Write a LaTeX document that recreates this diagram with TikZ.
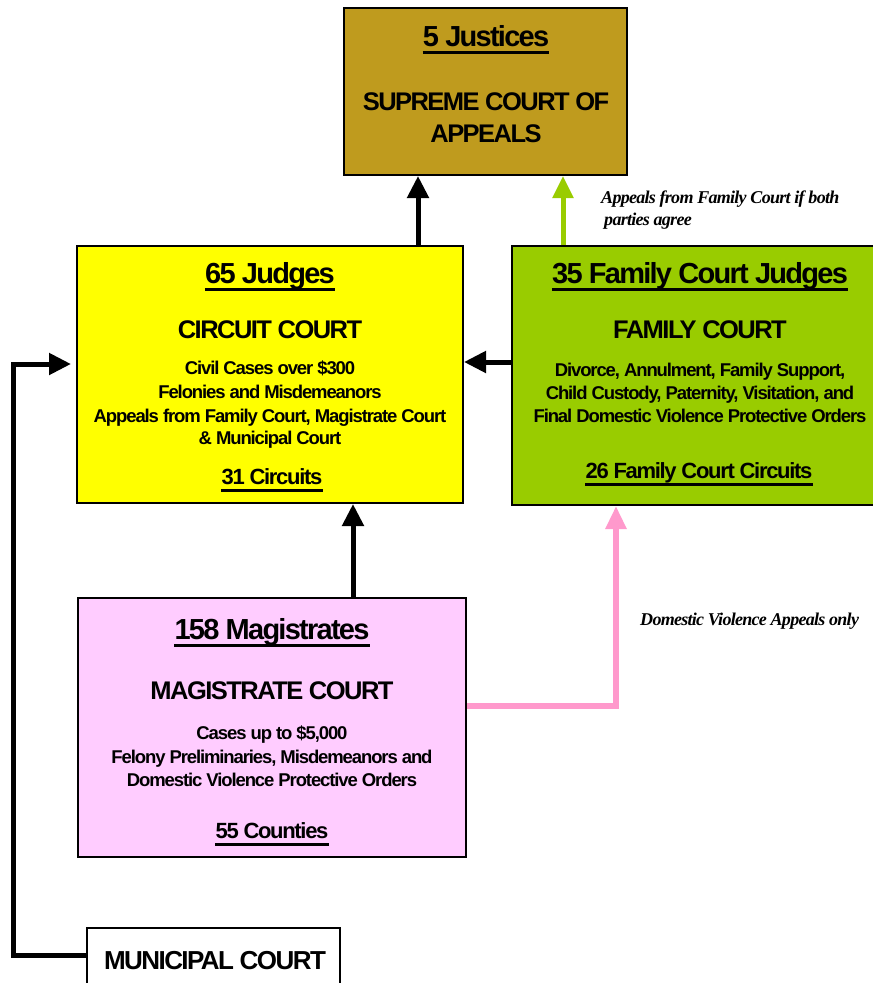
\documentclass[tikz,border=0pt]{standalone}
\usepackage{fontspec}
\setmainfont{Liberation Sans}[LetterSpace=-6]
\newfontfamily\tmfont{Liberation Serif}[LetterSpace=-4]
\usetikzlibrary{arrows.meta}
\definecolor{supc}{HTML}{BF9B1E}
\definecolor{circ}{HTML}{FFFF00}
\definecolor{famc}{HTML}{99CC00}
\definecolor{magc}{HTML}{FFCCFF}
\definecolor{pinka}{HTML}{FF99CC}
\definecolor{greena}{HTML}{99CC00}
\begin{document}
\begin{tikzpicture}[x=1pt,y=-1pt,
  box/.style={draw=black, line width=2pt, inner sep=0pt, anchor=center},
  txt/.style={inner sep=0pt, anchor=base, font=\bfseries},
  head/.style={txt, font=\fontsize{29}{30}\selectfont\bfseries},
  court/.style={txt, font=\fontsize{25.5}{27}\selectfont\bfseries},
  body/.style={txt, font=\fontsize{18.5}{19}\selectfont\bfseries},
  foot/.style={txt, font=\fontsize{22}{23}\selectfont\bfseries},
  note/.style={inner sep=0pt, anchor=base west, font=\tmfont\fontsize{18}{19}\selectfont\bfseries\itshape},
  ul/.style={line width=3pt},
  blk/.style={line width=5pt, draw=black, line join=miter, -{Triangle[width=21pt,length=22pt]}},
  grn/.style={line width=5pt, draw=greena, -{Triangle[width=20pt,length=22pt]}},
  pnk/.style={line width=5.5pt, draw=pinka, line join=miter, -{Triangle[width=20pt,length=23pt]}}
]
\useasboundingbox (0,0) rectangle (873,983);
% boxes
\node[box, fill=supc, minimum width=283pt, minimum height=167pt] (sup) at (485.5,91.5) {};
\node[box, fill=circ, minimum width=386pt, minimum height=257pt] (cir) at (270,374.5) {};
\node[box, fill=famc, minimum width=378pt, minimum height=259pt] (fam) at (701,375.5) {};
\node[box, fill=magc, minimum width=388pt, minimum height=259pt] (mag) at (272,727.5) {};
\node[box, fill=white, line width=1.5pt, minimum width=253pt, minimum height=62pt] (mun) at (213.5,959) {};

% supreme text
\node[head] (s1) at (486,46) {5 Justices};
\draw[ul] ([yshift=-6pt]s1.base west) -- ([yshift=-6pt]s1.base east);
\node[court] (s2) at (486,110) {SUPREME COURT OF};
\node[court] (s3) at (486,142) {APPEALS};

% circuit text
\node[head] (c1) at (270,283) {65 Judges};
\draw[ul] ([yshift=-6pt]c1.base west) -- ([yshift=-6pt]c1.base east);
\node[court] (c2) at (270,338) {CIRCUIT COURT};
\node[body] (c3) at (270,374) {Civil Cases over \$300};
\node[body] (c4) at (270,398) {Felonies and Misdemeanors};
\node[body] (c5) at (270,422) {Appeals from Family Court, Magistrate Court};
\node[body] (c6) at (270,444) {\& Municipal Court};
\node[foot] (c7) at (272,484) {31 Circuits};
\draw[ul] ([yshift=-6pt]c7.base west) -- ([yshift=-6pt]c7.base east);

% family text
\node[head] (f1) at (700,283) {35 Family Court Judges};
\draw[ul] ([yshift=-6pt]f1.base west) -- ([yshift=-6pt]f1.base east);
\node[court] (f2) at (700,338) {FAMILY COURT};
\node[body] (f3) at (700,376) {Divorce, Annulment, Family Support,};
\node[body] (f4) at (700,399) {Child Custody, Paternity, Visitation, and};
\node[body] (f5) at (700,422) {Final Domestic Violence Protective Orders};
\node[foot] (f6) at (699,478) {26 Family Court Circuits};
\draw[ul] ([yshift=-6pt]f6.base west) -- ([yshift=-6pt]f6.base east);

% magistrate text
\node[head] (m1) at (272,639) {158 Magistrates};
\draw[ul] ([yshift=-6pt]m1.base west) -- ([yshift=-6pt]m1.base east);
\node[court] (m2) at (272,699) {MAGISTRATE COURT};
\node[body] (m3) at (272,739) {Cases up to \$5,000};
\node[body] (m4) at (272,763) {Felony Preliminaries, Misdemeanors and};
\node[body] (m5) at (272,786) {Domestic Violence Protective Orders};
\node[foot] (m6) at (272,838) {55 Counties};
\draw[ul] ([yshift=-6pt]m6.base west) -- ([yshift=-6pt]m6.base east);

% municipal text
\node[court, font=\fontsize{26}{27}\selectfont\bfseries] (u1) at (215,969) {MUNICIPAL COURT};

% notes
\node[note] (n1) at (601,203) {Appeals from Family Court if both};
\node[note] (n2) at (604,225) {parties agree};
\node[note] (n3) at (640,625) {Domestic Violence Appeals only};

% guide coordinates
\coordinate (ax1) at (418,0);
\coordinate (ax2) at (563,0);
\coordinate (ax3) at (353,0);
\coordinate (ax4) at (616,0);
\coordinate (ax5) at (13,0);
\coordinate (ay1) at (0,362);
\coordinate (ay2) at (0,706);
\coordinate (ay3) at (0,364);
\coordinate (ay4) at (0,955);
\coordinate (tipm) at (71,364);

% connectors
\draw[blk] (cir.north -| ax1) -- (sup.south -| ax1);
\draw[grn] (fam.north -| ax2) -- (sup.south -| ax2);
\draw[blk] (fam.west |- ay1) -- (cir.east |- ay1);
\draw[blk] (mag.north -| ax3) -- (cir.south -| ax3);
\draw[pnk] (mag.east |- ay2) -| (fam.south -| ax4);
\draw[blk] (mun.west |- ay4) -| (ax5 |- ay3) -- (tipm);
\end{tikzpicture}
\end{document}
